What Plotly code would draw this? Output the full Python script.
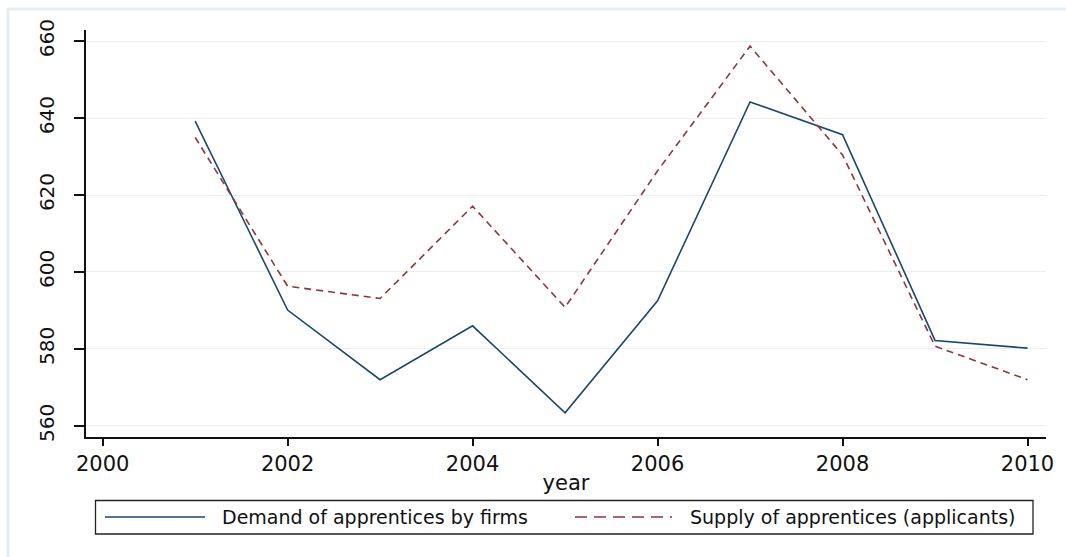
import plotly.graph_objects as go

years = [2001, 2002, 2003, 2004, 2005, 2006, 2007, 2008, 2009, 2010]
demand = [639.2, 590.1, 572.0, 586.0, 563.4, 592.5, 644.2, 635.7, 582.2, 580.2]
supply = [635.0, 596.3, 593.1, 617.1, 590.8, 626.3, 658.7, 630.4, 580.7, 572.0]
demand_name = "Demand of apprentices by firms"
supply_name = "Supply of apprentices (applicants)"
x_ticks = [2000, 2002, 2004, 2006, 2008, 2010]
y_ticks = [560, 580, 600, 620, 640, 660]

BLUE = "#1a476f"
RED = "#90353b"
FONT = "DejaVu Sans, Arial, sans-serif"

W, H = 1066, 557
L, R, T, B = 86, 20, 30, 120
PW, PH = W - L - R, H - T - B


def px(x):
    return (x - L) / PW


def py(y):
    return (H - B - y) / PH


fig = go.Figure()
fig.add_trace(go.Scatter(x=years, y=demand, mode="lines", name=demand_name,
                         line=dict(color=BLUE, width=1.6), showlegend=False))
fig.add_trace(go.Scatter(x=years, y=supply, mode="lines", name=supply_name,
                         line=dict(color=RED, width=1.6, dash="7px,5px"), showlegend=False))

shapes = [
    # outer graph region frame
    dict(type="rect", xref="paper", yref="paper", x0=px(8), x1=px(1070), y0=py(9), y1=py(565),
         line=dict(color="#e6edf1", width=3), layer="below"),
    # legend box
    dict(type="rect", xref="paper", yref="paper", x0=px(95.5), x1=px(1033), y0=py(500.5), y1=py(534),
         line=dict(color="#222222", width=1.3)),
    dict(type="line", xref="paper", yref="paper", x0=px(105), x1=px(205), y0=py(517), y1=py(517),
         line=dict(color=BLUE, width=1.3)),
    dict(type="line", xref="paper", yref="paper", x0=px(575), x1=px(672), y0=py(517), y1=py(517),
         line=dict(color=RED, width=1.3, dash="12px,7px")),
]
annotations = [
    dict(xref="paper", yref="paper", x=px(220), y=py(517), text=demand_name, showarrow=False,
         xanchor="left", yanchor="middle", font=dict(size=19, color="#111111", family=FONT)),
    dict(xref="paper", yref="paper", x=px(688), y=py(517), text=supply_name, showarrow=False,
         xanchor="left", yanchor="middle", font=dict(size=19, color="#111111", family=FONT)),
]

fig.update_layout(
    width=W, height=H,
    margin=dict(l=L, r=R, t=T, b=B),
    paper_bgcolor="white", plot_bgcolor="white",
    font=dict(family=FONT, color="#111111", size=18),
    shapes=shapes, annotations=annotations,
    showlegend=False,
)
fig.update_xaxes(
    range=[1999.82, 2010.2], tickvals=x_ticks, ticktext=[str(v) for v in x_ticks],
    showgrid=False, zeroline=False, showline=True, linecolor="#111111", linewidth=2,
    ticks="outside", ticklen=7, tickwidth=1.5, tickcolor="#111111",
    tickfont=dict(size=21), title=dict(text="year", font=dict(size=21), standoff=0),
)
fig.update_yaxes(
    range=[557.1, 662.9], tickvals=y_ticks, ticktext=[str(v) for v in y_ticks],
    showgrid=True, gridcolor="#eaf0f2", gridwidth=1.2, zeroline=False,
    showline=True, linecolor="#111111", linewidth=2,
    ticks="outside", ticklen=10, tickwidth=1.5, tickcolor="#111111",
    tickangle=-90, tickfont=dict(size=20), ticklabelstandoff=12,
)

fig.write_html("out.html")
